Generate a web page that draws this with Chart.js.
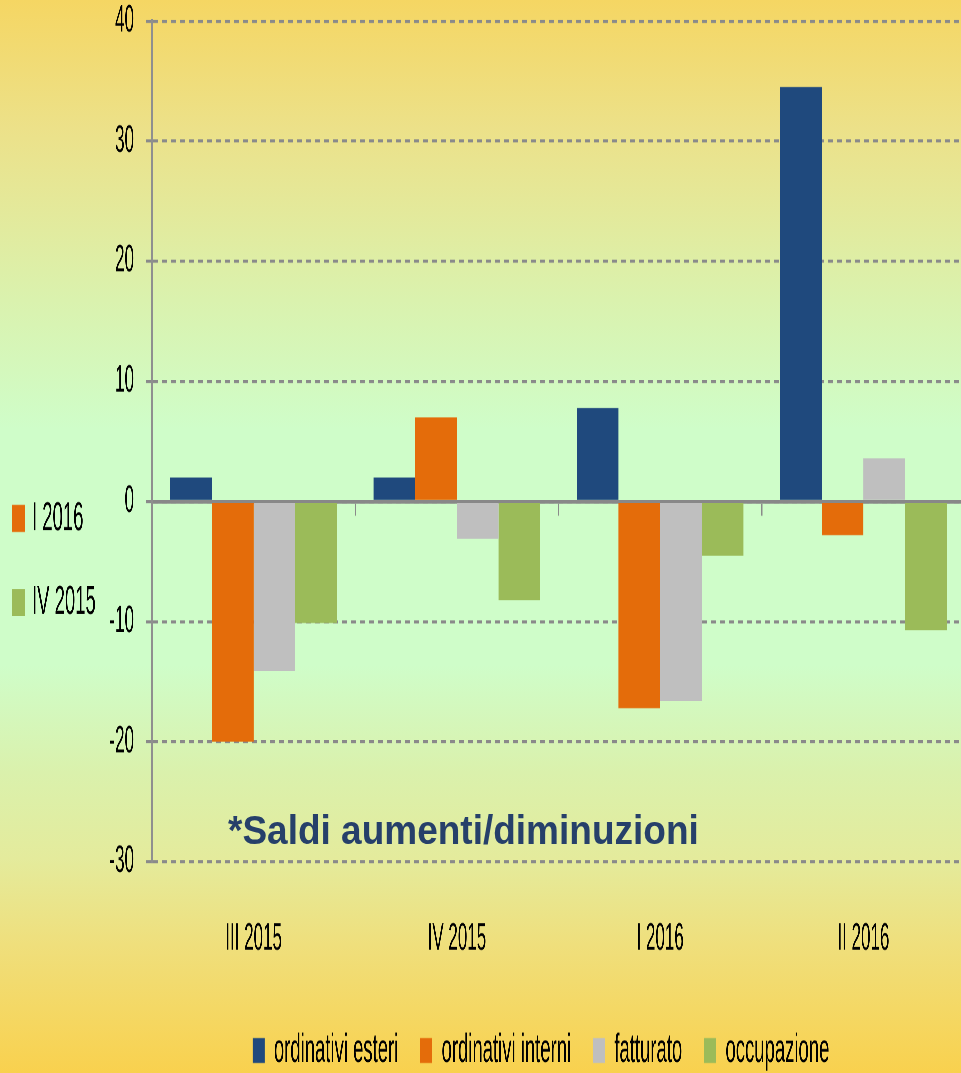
<!DOCTYPE html>
<html lang="it">
<head>
<meta charset="utf-8">
<title>Saldi aumenti/diminuzioni</title>
<script src="https://cdn.jsdelivr.net/npm/chart.js@4.4.1/dist/chart.umd.min.js"></script>
<style>
  html, body { margin: 0; padding: 0; }
  body {
    width: 961px;
    height: 1073px;
    overflow: hidden;
    position: relative;
    background: linear-gradient(to bottom,
      #F5D663 0%, #ECE189 12%, #DAF2AE 28%, #CFFDC9 40%,
      #CFFDC9 62%, #DAF1AC 72%, #E4EB9C 80%, #EFDF7C 88%, #F9D14E 100%);
  }
  /* il grafico originale e' stirato in verticale: disegno piu' basso e poi allungo */
  #contenitore {
    position: absolute;
    left: 0;
    top: 0;
    width: 1082px;
    height: 500px;
    transform: scaleY(2.2);
    transform-origin: 0 0;
  }
  #nota {
    position: absolute;
    left: 228px;
    top: 810px;
    font: bold 37px 'Liberation Sans', Arial, sans-serif;
    line-height: 37px;
    color: #26406A;
    white-space: nowrap;
    transform: scaleY(1.1);
    transform-origin: 0 0;
  }
</style>
</head>
<body>
<div id="contenitore"><canvas id="grafico"></canvas></div>
<div id="nota">*Saldi aumenti/diminuzioni</div>

<script>
const trimestri = ['III 2015', 'IV 2015', 'I 2016', 'II 2016'];

const ordinativiEsteri = [2, 2, 7.8, 34.5];
const ordinativiInterni = [-20, 7, -17.2, -2.8];
const fatturato = [-14.1, -3.1, -16.6, 3.6];
const occupazione = [-10.1, -8.2, -4.5, -10.7];

const nomiSerie = ['ordinativi esteri', 'ordinativi interni', 'fatturato', 'occupazione'];
const coloriSerie = ['#1F497D', '#E46C0A', '#BFBFBF', '#9BBB59'];

const valoriAsseY = [-30, -20, -10, 0, 10, 20, 30, 40];

// pezzo di legenda di un altro grafico, tagliato sul bordo sinistro
const legendaTagliata = ['I 2016', 'IV 2015'];
const coloriLegendaTagliata = [coloriSerie[1], coloriSerie[3]];

const FONT = "'Liberation Sans', Arial, sans-serif";
Chart.defaults.font.family = FONT;
Chart.defaults.color = '#000';

const legendaSinistra = {
  id: 'legendaSinistra',
  afterDraw(chart) {
    const ctx = chart.ctx;
    const righe = [229.5, 267.7];
    ctx.save();
    ctx.font = '18.5px ' + FONT;
    ctx.textBaseline = 'middle';
    legendaTagliata.forEach((testo, i) => {
      ctx.fillStyle = coloriLegendaTagliata[i];
      ctx.fillRect(12, righe[i], 13, 12.3);
      ctx.fillStyle = '#000';
      ctx.fillText(testo, 32, righe[i] + 6.3);
    });
    ctx.restore();
  }
};

const serie = [ordinativiEsteri, ordinativiInterni, fatturato, occupazione];

new Chart(document.getElementById('grafico'), {
  type: 'bar',
  data: {
    labels: trimestri,
    datasets: serie.map((valori, i) => ({
      label: nomiSerie[i],
      data: valori,
      backgroundColor: coloriSerie[i],
      borderWidth: 0,
      barPercentage: 1,
      categoryPercentage: 0.82,
      xAxisID: 'x',
      yAxisID: 'y'
    }))
  },
  options: {
    responsive: true,
    maintainAspectRatio: false,
    animation: false,
    devicePixelRatio: 3,
    layout: { padding: { top: 9.55, left: 0, right: 0, bottom: 3.25 } },
    plugins: {
      legend: {
        position: 'bottom',
        labels: {
          boxWidth: 12,
          boxHeight: 11.4,
          padding: 22,
          color: '#000',
          font: { size: 18.5 }
        }
      },
      tooltip: { enabled: false }
    },
    scales: {
      x: {
        type: 'category',
        position: { y: 0 },
        offset: true,
        ticks: { display: false },
        grid: {
          offset: true,
          drawOnChartArea: false,
          drawTicks: true,
          tickLength: 5.5,
          color: '#8A8A8A',
          lineWidth: 1.5
        },
        border: { display: true, color: '#888888', width: 1.6 }
      },
      x2: {
        type: 'category',
        position: 'bottom',
        offset: true,
        grid: { display: false },
        border: { display: false },
        ticks: {
          color: '#000',
          padding: 17.6,
          maxRotation: 0,
          autoSkip: false,
          font: { size: 17, lineHeight: 1.12 }
        },
        afterFit: s => { s.height = 54.45; }
      },
      y: {
        type: 'linear',
        position: 'left',
        min: valoriAsseY[0],
        max: valoriAsseY[valoriAsseY.length - 1],
        ticks: {
          stepSize: 10,
          padding: 12,
          color: '#000',
          font: { size: 17, lineHeight: 1.12 }
        },
        grid: {
          color: '#8A8A8A',
          lineWidth: 1.4,
          tickLength: 6,
          tickColor: '#8A8A8A',
          tickWidth: 1.4
        },
        border: { display: true, color: '#8F8F8F', width: 2, dash: [5, 4] },
        afterFit: s => {
          s.width = 152;
          s.paddingTop = 0;
          s.paddingBottom = 0;
        }
      },
      yR: {
        type: 'linear',
        position: 'right',
        grid: { display: false },
        border: { display: false },
        ticks: { display: false },
        afterFit: s => { s.width = 117; }
      }
    }
  },
  plugins: [legendaSinistra]
});
</script>
</body>
</html>
